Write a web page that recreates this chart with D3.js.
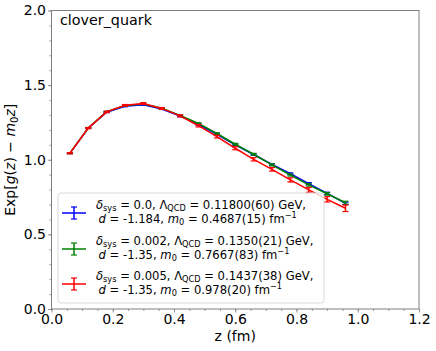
<!DOCTYPE html>
<html>
<head>
<meta charset="utf-8">
<script src="https://cdn.jsdelivr.net/npm/d3@7"></script>
<style>
  body { margin: 0; background: #fff; }
  text { font-family: "DejaVu Sans", sans-serif; }
</style>
</head>
<body>
<svg id="fig" width="436" height="351"></svg>
<script>
const zVals = [0.06, 0.12, 0.18, 0.24, 0.30, 0.36, 0.42, 0.48, 0.54, 0.60, 0.66, 0.72, 0.78, 0.84, 0.90, 0.96];
const blueVals = [1.043, 1.212, 1.318, 1.358, 1.368, 1.340, 1.292, 1.236, 1.170, 1.100, 1.035, 0.968, 0.906, 0.840, 0.775, 0.708];
const blueErr = [0.002, 0.002, 0.002, 0.003, 0.003, 0.003, 0.004, 0.004, 0.004, 0.005, 0.005, 0.006, 0.006, 0.007, 0.007, 0.008];
const greenVals = [1.044, 1.213, 1.322, 1.364, 1.374, 1.345, 1.297, 1.243, 1.176, 1.104, 1.037, 0.966, 0.898, 0.832, 0.772, 0.712];
const greenErr = [0.003, 0.003, 0.003, 0.003, 0.004, 0.004, 0.004, 0.005, 0.005, 0.006, 0.006, 0.007, 0.007, 0.008, 0.009, 0.010];
const redVals = [1.044, 1.212, 1.321, 1.365, 1.377, 1.344, 1.294, 1.228, 1.155, 1.077, 1.003, 0.936, 0.865, 0.798, 0.735, 0.675];
const redErr = [0.004, 0.004, 0.005, 0.005, 0.006, 0.006, 0.007, 0.008, 0.009, 0.010, 0.011, 0.012, 0.014, 0.016, 0.018, 0.022];
const seriesColors = ["blue", "green", "red"];
const legendLines = [
  [["δ", "it"], ["sys", "sub"], [" = 0.0, Λ", ""], ["QCD", "sub"], [" = 0.11800(60) GeV,", ""]],
  [["d", "it"], [" = -1.184, ", ""], ["m", "it"], ["0", "sub"], [" = 0.4687(15) fm", ""], ["−1", "sup"]],
  [["δ", "it"], ["sys", "sub"], [" = 0.002, Λ", ""], ["QCD", "sub"], [" = 0.1350(21) GeV,", ""]],
  [["d", "it"], [" = -1.35, ", ""], ["m", "it"], ["0", "sub"], [" = 0.7667(83) fm", ""], ["−1", "sup"]],
  [["δ", "it"], ["sys", "sub"], [" = 0.005, Λ", ""], ["QCD", "sub"], [" = 0.1437(38) GeV,", ""]],
  [["d", "it"], [" = -1.35, ", ""], ["m", "it"], ["0", "sub"], [" = 0.978(20) fm", ""], ["−1", "sup"]]
];
const xTicks = [0.0, 0.2, 0.4, 0.6, 0.8, 1.0, 1.2];
const yTicks = [0.0, 0.5, 1.0, 1.5, 2.0];

const margin = {left: 51.5, right: 17, top: 10.5, bottom: 42};
const W = 436, H = 351;

const svg = d3.select("#fig");

const x = d3.scaleLinear().domain([0, 1.2]).range([margin.left, W - margin.right]);
const y = d3.scaleLinear().domain([0, 2]).range([H - margin.bottom, margin.top]);

const series = [
  {vals: blueVals, err: blueErr, color: seriesColors[0]},
  {vals: greenVals, err: greenErr, color: seriesColors[1]},
  {vals: redVals, err: redErr, color: seriesColors[2]}
];

const line = d3.line().x(d => x(d[0])).y(d => y(d[1]));

series.forEach(s => {
  const g = svg.append("g");
  const pts = zVals.map((z, i) => [z, s.vals[i], s.err[i]]);
  g.append("path")
    .attr("d", line(pts))
    .attr("fill", "none")
    .attr("stroke", s.color)
    .attr("stroke-width", 1.5);
  const eb = g.selectAll(".eb").data(pts).join("g");
  eb.append("line")
    .attr("x1", d => x(d[0])).attr("x2", d => x(d[0]))
    .attr("y1", d => y(d[1] - d[2])).attr("y2", d => y(d[1] + d[2]))
    .attr("stroke", s.color).attr("stroke-width", 1.5);
  [-1, 1].forEach(sg => {
    eb.append("line")
      .attr("x1", d => x(d[0]) - 3).attr("x2", d => x(d[0]) + 3)
      .attr("y1", d => y(d[1] + sg * d[2])).attr("y2", d => y(d[1] + sg * d[2]))
      .attr("stroke", s.color).attr("stroke-width", 1.2);
  });
});

// axes
const axisColor = "#7f7f7f";
function styleAxis(g) {
  g.select(".domain").remove();
  g.selectAll(".tick line").attr("stroke", axisColor).attr("stroke-width", 0.8);
  g.selectAll(".tick text").attr("fill", "#000").attr("font-size", "14px").attr("font-family", "DejaVu Sans");
}

const xMinor = d3.range(0, 1.2001, 0.05);
const yMinor = d3.range(0, 2.0001, 0.1);

svg.append("g")
  .attr("transform", `translate(0,${H - margin.bottom})`)
  .call(d3.axisBottom(x).tickValues(xMinor).tickSize(2).tickFormat(""))
  .call(styleAxis);
svg.append("g")
  .attr("transform", `translate(${margin.left},0)`)
  .call(d3.axisLeft(y).tickValues(yMinor).tickSize(2).tickFormat(""))
  .call(styleAxis);
svg.append("g")
  .attr("transform", `translate(0,${H - margin.bottom})`)
  .call(d3.axisBottom(x).tickValues(xTicks).tickSize(3.5).tickPadding(2).tickFormat(d3.format(".1f")))
  .call(styleAxis);
svg.append("g")
  .attr("transform", `translate(${margin.left},0)`)
  .call(d3.axisLeft(y).tickValues(yTicks).tickSize(3.5).tickPadding(2).tickFormat(d3.format(".1f")))
  .call(styleAxis);

svg.append("rect")
  .attr("x", margin.left).attr("y", margin.top)
  .attr("width", W - margin.left - margin.right)
  .attr("height", H - margin.top - margin.bottom)
  .attr("fill", "none").attr("stroke", axisColor).attr("stroke-width", 1);

// title inside
svg.append("text")
  .attr("x", margin.left + 8.5).attr("y", 25)
  .attr("font-size", "14.3px")
  .text("clover_quark");

// axis labels
svg.append("text")
  .attr("x", (margin.left + W - margin.right) / 2).attr("y", 341)
  .attr("text-anchor", "middle").attr("font-size", "14px")
  .text("z (fm)");

const yl = svg.append("text")
  .attr("transform", `translate(15,${(margin.top + H - margin.bottom) / 2}) rotate(-90)`)
  .attr("text-anchor", "middle").attr("font-size", "14px");
yl.append("tspan").text("Exp[");
yl.append("tspan").attr("font-style", "italic").text("g");
yl.append("tspan").text("(");
yl.append("tspan").attr("font-style", "italic").text("z");
yl.append("tspan").text(") − ");
yl.append("tspan").attr("font-style", "italic").text("m");
yl.append("tspan").attr("font-size", "10px").attr("dy", 3).text("0");
yl.append("tspan").attr("font-style", "italic").attr("dy", -3).text("z");
yl.append("tspan").text("]");

// legend
const lg = svg.append("g");
lg.append("rect")
  .attr("x", 58).attr("y", 193).attr("width", 266).attr("height", 110)
  .attr("rx", 3).attr("fill", "#fff").attr("fill-opacity", 0.8)
  .attr("stroke", "#d9d9d9").attr("stroke-width", 1);

const entryY = [213, 249, 284];
seriesColors.forEach((c, i) => {
  const cy = entryY[i];
  lg.append("line").attr("x1", 62).attr("x2", 86).attr("y1", cy).attr("y2", cy)
    .attr("stroke", c).attr("stroke-width", 1.5);
  lg.append("line").attr("x1", 74).attr("x2", 74).attr("y1", cy - 6).attr("y2", cy + 6)
    .attr("stroke", c).attr("stroke-width", 1.5);
  [-6, 6].forEach(o => lg.append("line").attr("x1", 71).attr("x2", 77)
    .attr("y1", cy + o).attr("y2", cy + o).attr("stroke", c).attr("stroke-width", 1.2));

  [0, 1].forEach(k => {
    const parts = legendLines[i * 2 + k];
    const t = lg.append("text")
      .attr("x", k === 0 ? 96 : 98.5)
      .attr("y", cy - 4.5 + k * 14)
      .attr("font-size", "11.6px");
    let shift = 0;
    parts.forEach(([str, kind]) => {
      const sp = t.append("tspan").text(str);
      let target = 0;
      if (kind === "it") sp.attr("font-style", "italic");
      if (kind === "sub") { sp.attr("font-size", "8.2px"); target = 2.3; }
      if (kind === "sup") { sp.attr("font-size", "8.2px"); target = -4.2; }
      if (target !== shift) { sp.attr("dy", target - shift); shift = target; }
    });
  });
});
</script>
</body>
</html>
